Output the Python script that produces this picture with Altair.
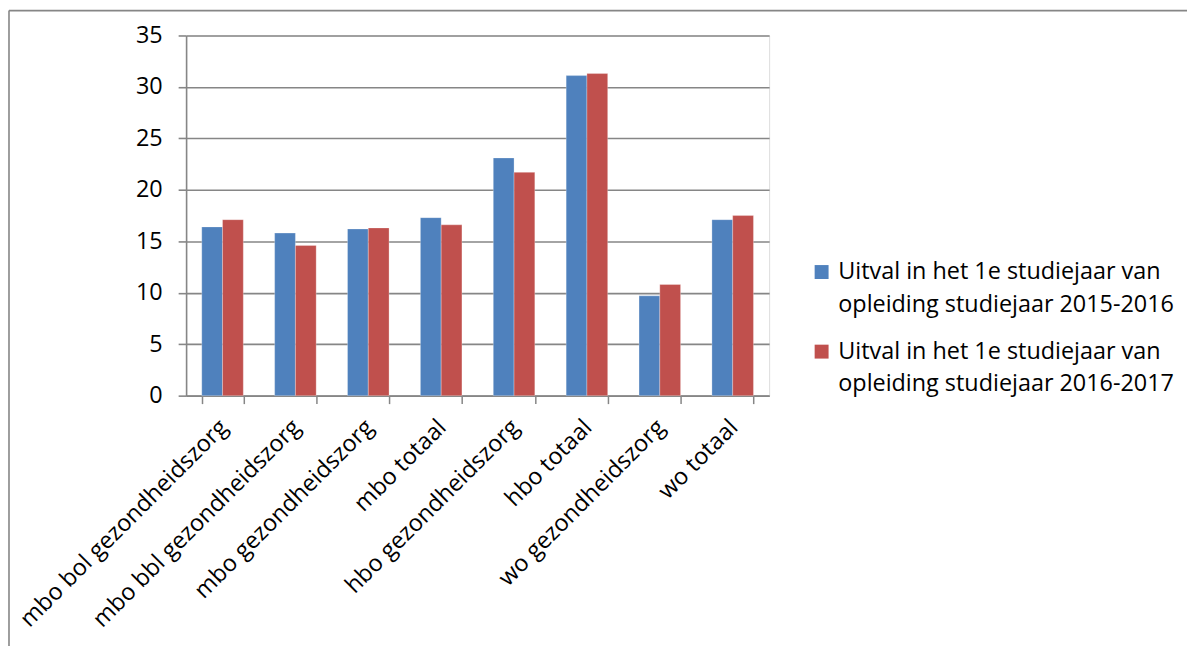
import altair as alt
import pandas as pd

categories = ["mbo bol gezondheidszorg", "mbo bbl gezondheidszorg", "mbo gezondheidszorg",
              "mbo totaal", "hbo gezondheidszorg", "hbo totaal", "wo gezondheidszorg", "wo totaal"]
series_names = ["Uitval in het 1e studiejaar van opleiding studiejaar 2015-2016",
                "Uitval in het 1e studiejaar van opleiding studiejaar 2016-2017"]
values_2015_2016 = [16.4, 15.8, 16.2, 17.3, 23.1, 31.1, 9.7, 17.1]
values_2016_2017 = [17.1, 14.6, 16.3, 16.6, 21.7, 31.3, 10.8, 17.5]
y_ticks = [0, 5, 10, 15, 20, 25, 30, 35]
colors = ["#4F81BD", "#C0504D"]

rows = []
for c, a, b in zip(categories, values_2015_2016, values_2016_2017):
    rows.append({"category": c, "series": series_names[0], "value": a})
    rows.append({"category": c, "series": series_names[1], "value": b})
df = pd.DataFrame(rows)

FONT = "Open Sans"
FS = 23.5
GREY = "#868686"
DY = 7  # vertical shift of guide labels (legend baseline under symbol centre)

bars = alt.Chart(df).mark_bar(stroke="#ffffff", strokeOpacity=0.35, strokeWidth=0.8).encode(
    x=alt.X("category:N", sort=categories,
            scale=alt.Scale(paddingInner=0.43, paddingOuter=0.215),
            axis=alt.Axis(title=None, labelAngle=-45, labelAlign="right",
                          labelBaseline="middle", tickBand="extent", tickSize=8,
                          tickColor=GREY, tickWidth=1.5, domainColor=GREY,
                          domainWidth=1.5, labelFont=FONT, labelFontSize=FS,
                          labelColor="black", labelPadding=15, labelOffset=-4,
                          labelLimit=500, grid=False)),
    xOffset=alt.XOffset("series:N", sort=series_names),
    y=alt.Y("value:Q", scale=alt.Scale(domain=[0, 35], nice=False),
            axis=alt.Axis(title=None, values=y_ticks, grid=True, gridColor=GREY,
                          gridWidth=1.6, domainColor=GREY, domainWidth=1.6,
                          tickColor=GREY, tickWidth=1.6, tickSize=8,
                          labelFont=FONT, labelFontSize=FS, labelColor="black",
                          labelPadding=16, labelOffset=-DY)),
    color=alt.Color("series:N", scale=alt.Scale(domain=series_names, range=colors),
                    legend=alt.Legend(
                        title=None, orient="none", legendX=627, legendY=226, padding=0,
                        symbolType="square", symbolSize=196, symbolStrokeWidth=0,
                        labelFont=FONT, labelFontSize=FS, labelColor="black",
                        labelOffset=5, labelLimit=600, rowPadding=22,
                        labelBaseline="alphabetic",
                        labelExpr="[substring(datum.label, 0, 31), substring(datum.label, 32)]")),
)

frame_df = pd.DataFrame({"k": [0]})
vline = alt.Chart(frame_df).mark_rule(color=GREY, strokeWidth=1.6).encode(
    x=alt.value(-178), y=alt.value(-25), y2=alt.value(700))
hline = alt.Chart(frame_df).mark_rule(color=GREY, strokeWidth=1.6).encode(
    x=alt.value(-178), x2=alt.value(1100), y=alt.value(-25))

chart = alt.layer(bars, vline, hline).properties(
    width=586, height=362,
    padding={"left": 179, "top": 26, "right": 420, "bottom": 250},
    autosize=alt.AutoSizeParams(type="none"),
).configure_view(stroke=None).configure(
    style={"guide-label": {"lineHeight": 33, "dy": DY}}
)

chart.save("out.html", embed_options={"renderer": "svg", "actions": False})
